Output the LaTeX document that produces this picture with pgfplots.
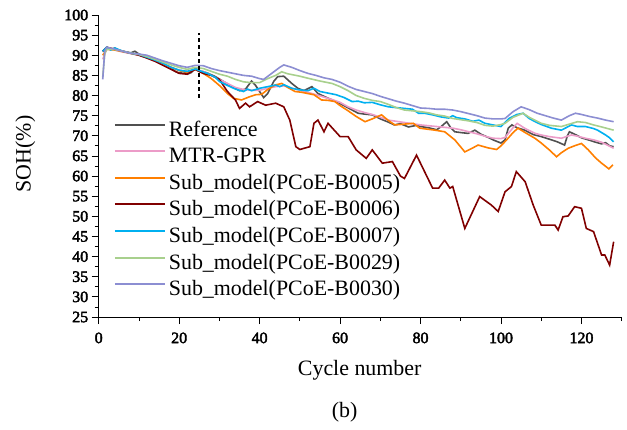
\documentclass[border=0pt]{standalone}
\usepackage{pgfplots}
\pgfplotsset{compat=1.18}
\usepackage{fontspec}
\setmainfont{Liberation Serif}
\newfontfamily\tickfont{Liberation Serif}[FakeBold=2.5]
\definecolor{cref}{HTML}{505050}
\definecolor{cmtr}{HTML}{EC9CC8}
\definecolor{cfive}{HTML}{FF7F00}
\definecolor{csix}{HTML}{800000}
\definecolor{cseven}{HTML}{00B0F0}
\definecolor{ctwn}{HTML}{A8D08D}
\definecolor{cthr}{HTML}{8C8ED2}
\begin{document}
\begin{tikzpicture}
\begin{axis}[
  at={(0,0)}, anchor=south west,
  width=523bp, height=302bp, scale only axis,
  xmin=0, xmax=130, ymin=25, ymax=100,
  axis x line*=bottom, axis y line*=left,
  xtick={0,20,...,120}, minor xtick={10,30,...,130},
  ytick={25,30,...,100}, minor ytick={27.5,32.5,...,97.5},
  tick align=outside, major tick length=7bp, minor tick length=4bp,
  tick style={black, line width=0.8bp},
  axis line style={black, line width=0.8bp},
  /pgf/number format/assume math mode=true,
  ticklabel style={font=\tickfont\fontsize{16}{16}\selectfont},
  xticklabel style={yshift=-5bp},
  legend cell align=left,
  legend style={draw=none, fill=none, inner sep=0pt, outer sep=0pt,
    anchor=north west, at={(axis description cs:0.029,0.652)},
    font=\fontsize{22}{22}\selectfont,
    nodes={inner sep=0pt, text height=16bp, text depth=5bp},
    row sep=5.6bp, column sep=3bp},
  legend image code/.code={\draw[#1, line width=2bp] (0bp,6bp) -- (50bp,6bp);},
  every axis plot/.append style={line width=1.6bp, sharp plot},
]
\addplot[cref] coordinates {(1,91)(2,92)(3,91.4)(4,91.8)(5,91.2)(6,91)(8,90.6)(9,91)(10,90.3)(12,89.6)(14,88.7)(16,88)(18,86.8)(19,86)(20,85.6)(21,86)(22,85.3)(23,85.7)(24,86.8)(25,86.2)(27,85.6)(29,84.7)(31,83.5)(33,82.3)(35,81.2)(36.5,81.6)(38,83.6)(39,82.5)(41,79.5)(42,80.5)(43.5,83.5)(44.5,84.7)(46,84.8)(48,83)(49.5,81.8)(51,81.2)(53,82.2)(54.5,80.5)(56,79.8)(58,78.9)(60,78)(61.5,77.2)(63,76.4)(64.5,75.6)(66,75.4)(68,75.2)(70,74.2)(72,73.4)(73.5,72.7)(75,73)(77,72.2)(79,72.6)(80,72.3)(82,72)(84,71.5)(85,72.2)(86.5,73.5)(87.5,72)(88.5,71)(90,70.8)(91.8,70.6)(93.5,71.4)(95,70.4)(96.8,69.6)(98,69)(100,68.2)(101,69)(101.8,71.9)(102.7,72.7)(104,72)(105.9,71.4)(108,70.3)(110,69.8)(112.5,69)(114,68.5)(115.8,67.7)(116.5,70)(117,71)(118.7,70.2)(120,69.5)(122,68.9)(123.2,68.5)(125,68)(126,68.3)(127,67.5)(128,67.3)};
\addlegendentry{Reference}
\addplot[cmtr] coordinates {(1,89)(2,91.5)(4,91.3)(6,90.8)(8,90.4)(10,90)(12,89.4)(14,88.6)(16,87.8)(18,87)(20,86.3)(22,86)(24,86.5)(26,86)(28,85)(30,84)(32,83)(34,82)(36,81.5)(38,81.3)(40,81.3)(42,81.8)(44,82.2)(46,82.4)(48,81.8)(50,81.3)(52,80.8)(54,80.2)(56,79.6)(58,79)(60,78.3)(62,77.2)(64,76.4)(66,75.8)(68,75.3)(70,74.6)(72,73.9)(74,73.6)(76,73.3)(78,73)(80,72.7)(82,72.5)(84,72.3)(86,72.1)(88,71.9)(90,71.5)(92,71)(94,70.5)(96,69.9)(98,69.4)(100,69.3)(101,69.6)(103,72)(104,73.1)(106,71.8)(108.5,70.6)(110,70.2)(112,69.8)(115,69.4)(117.5,70.2)(119,69.9)(121,69.4)(123,69)(125,68.4)(127,67.4)(128,66.9)};
\addlegendentry{MTR-GPR}
\addplot[cfive] coordinates {(1,90)(2,91.5)(4,91.3)(6,90.9)(8,90.5)(10,90.1)(12,89.5)(14,88.7)(16,87.9)(18,87)(20,86.2)(22,85.8)(24,86.5)(26,85.5)(28,84.2)(30,82.5)(32,80.5)(33.5,79.3)(35.5,78.9)(37.5,79.7)(39,80.2)(40.5,80.3)(42,81.5)(43.8,82.6)(45.5,83)(47,82)(48.8,81)(50.5,80.8)(52,80.5)(53.5,80.2)(55.4,78.9)(57,78.8)(58.7,78.5)(60,77.5)(62,76.2)(64,74.8)(66.2,73.5)(68,74.2)(70.3,75.2)(72,73.8)(73.6,72.7)(76,72.9)(78.2,73.1)(79.8,71.9)(82,71.6)(83.6,71.4)(86,71)(87,70.2)(88.5,69)(90,67.2)(91,66)(93,67)(94.3,67.7)(96.8,67)(98.9,66.6)(100,67.5)(101.4,69)(103,70.8)(104.2,71.9)(106,70.8)(108.4,69.4)(110,68.2)(112,66.5)(113.8,64.8)(115,65.8)(116.7,66.9)(118.5,67.6)(120,68.1)(121.7,66.5)(123.5,64.5)(125,63.2)(126.8,61.8)(127.8,62.8)};
\addlegendentry{Sub\_model(PCoE-B0005)}
\addplot[csix] coordinates {(1,91)(2,92)(4,91.5)(6,91)(8,90.5)(10,90)(12,89.3)(14,88.5)(16,87.5)(18,86.5)(20,85.5)(22,85.3)(24,86.5)(25,86)(26,85.5)(28,85)(30,84)(32,81)(34,78.9)(35,76.8)(36.5,78.1)(37.5,77.2)(39.5,78.5)(41.5,77.6)(44,78.1)(46,77.2)(47.5,73.9)(49,67.3)(50,66.6)(52.5,67.3)(53.5,73.1)(54.5,73.9)(56,71)(57,73.1)(60,69.8)(62,69.8)(64,66.5)(66.5,64.4)(68,66.5)(70.5,63.2)(73,63.6)(75,60)(76,59.4)(79,65.2)(81,61.1)(83,57)(84.5,57)(86,59)(87.3,57)(88,57.4)(91,47)(94.7,54.9)(97.6,52.8)(99.3,51.2)(101,56.1)(102.6,57.4)(103.8,61.1)(106,58.6)(108,52.8)(110,47.8)(113.4,47.8)(114.2,46.6)(115.4,49.9)(116.7,50.1)(118.3,52.4)(120,52)(121.2,47)(123,46.2)(125,40.4)(125.8,40.4)(127,37.9)(128,43.7)};
\addlegendentry{Sub\_model(PCoE-B0006)}
\addplot[cseven] coordinates {(1,91)(2,92)(3,91.3)(4,91.8)(6,91)(8,90.5)(10,90.2)(12,89.5)(14,88.8)(16,88)(18,87)(20,86.3)(22,86)(24,86.6)(25,86.2)(27,85.5)(29,84.5)(30,83.5)(32,82.5)(34,81.6)(36,81)(37,81.6)(38,81.2)(40,81.8)(42,82.2)(44,82.6)(45,82.2)(46,82.7)(48,81.8)(50,81.4)(52,81.2)(53.5,81.8)(55,81)(57,80.6)(59,80.2)(61,79.5)(63,78.5)(64.5,78.6)(66,78.2)(68,78.3)(70,77.7)(72,77.2)(74,77)(76,76.8)(78,76.6)(79.5,75.6)(81,75.6)(83,75.2)(85,74.7)(87,74.4)(88,75)(89,74.5)(91,74.2)(93,73.6)(94.5,73.9)(96,73.1)(98,72.7)(100,72.3)(102,74.3)(104,75.3)(105.5,75.6)(107,74.3)(108.5,73.5)(110,72.8)(112.5,71.9)(115,71.4)(117.5,72.7)(119,72.3)(121,72.3)(123,71.8)(124,71.4)(126,70.2)(127,69.5)(128,68.5)};
\addlegendentry{Sub\_model(PCoE-B0007)}
\addplot[ctwn] coordinates {(1,84.5)(1.5,90.5)(2,91.5)(4,91.4)(6,91)(8,90.5)(10,90.2)(12,89.7)(14,89)(16,88.3)(18,87.6)(20,87)(22,86.5)(24,87)(26,86.7)(28,86)(30,85.3)(32,84.8)(34,84)(36,83.4)(38,83.2)(40,83.2)(42,84.2)(44,85)(45.5,85.9)(47,85.4)(50,84.8)(52,84.3)(55,83.6)(58,83)(60,82.2)(62,81.2)(64,80)(66,79.3)(68,78.8)(70,78.5)(72,77.8)(74,77)(76,76.4)(78,76.2)(80,76)(82,75.7)(84,75.2)(86,74.9)(88,74.3)(90,74)(92,73.7)(94,73.3)(96,72.6)(98,72.4)(100,72.8)(101,73.1)(103,74.6)(105.5,75.6)(107,74.6)(110,73.1)(112,72.6)(115,72.3)(117,72.9)(119,73.5)(121,73.3)(123,72.7)(125,72.2)(128,71.4)};
\addlegendentry{Sub\_model(PCoE-B0029)}
\addplot[cthr] coordinates {(1,84)(1.5,91)(2,92)(4,91.5)(6,91)(8,90.5)(10,90.3)(12,90)(14,89.3)(16,88.6)(18,88)(20,87.4)(22,87)(24,87.5)(26,87.4)(28,86.7)(30,86.2)(32,85.8)(34,85.4)(36,85)(38,84.8)(40,84.2)(41,84)(43,85.5)(45,87)(46,87.6)(48,87)(50,86.2)(52,85.5)(54,85)(56,84.4)(58,84)(60,83.3)(62,82.3)(64,81.5)(66,81)(68,80.5)(70,79.8)(72,79.2)(74,78.6)(76,78.1)(78,77.5)(80,76.9)(82,76.8)(84,76.6)(86,76.6)(88,76.4)(90,76)(92,75.5)(94,75)(96,74.4)(98,74.2)(100,74.2)(101,74.3)(103,76)(105,77.2)(107,76.5)(109,75.6)(111,75)(113,74.4)(115,73.9)(117,75)(118.5,75.6)(120,75.3)(122,74.8)(124,74.4)(126,73.9)(128,73.5)};
\addlegendentry{Sub\_model(PCoE-B0030)}
\addplot[black, line width=2bp, dash pattern=on 4bp off 3bp, forget plot] coordinates {(25,79.5)(25,95.5)};
\end{axis}
\node[anchor=base, font=\fontsize{22}{22}\selectfont] at (261bp,-58bp) {Cycle number};
\node[anchor=base, rotate=90, font=\fontsize{22}{22}\selectfont] at (-68bp,163bp) {SOH(\%)};
\node[anchor=base, font=\fontsize{22}{22}\selectfont] at (246bp,-100bp) {(b)};
\path[use as bounding box] (-98.7bp,-113bp) rectangle (528.3bp,317bp);
\end{tikzpicture}
\end{document}
